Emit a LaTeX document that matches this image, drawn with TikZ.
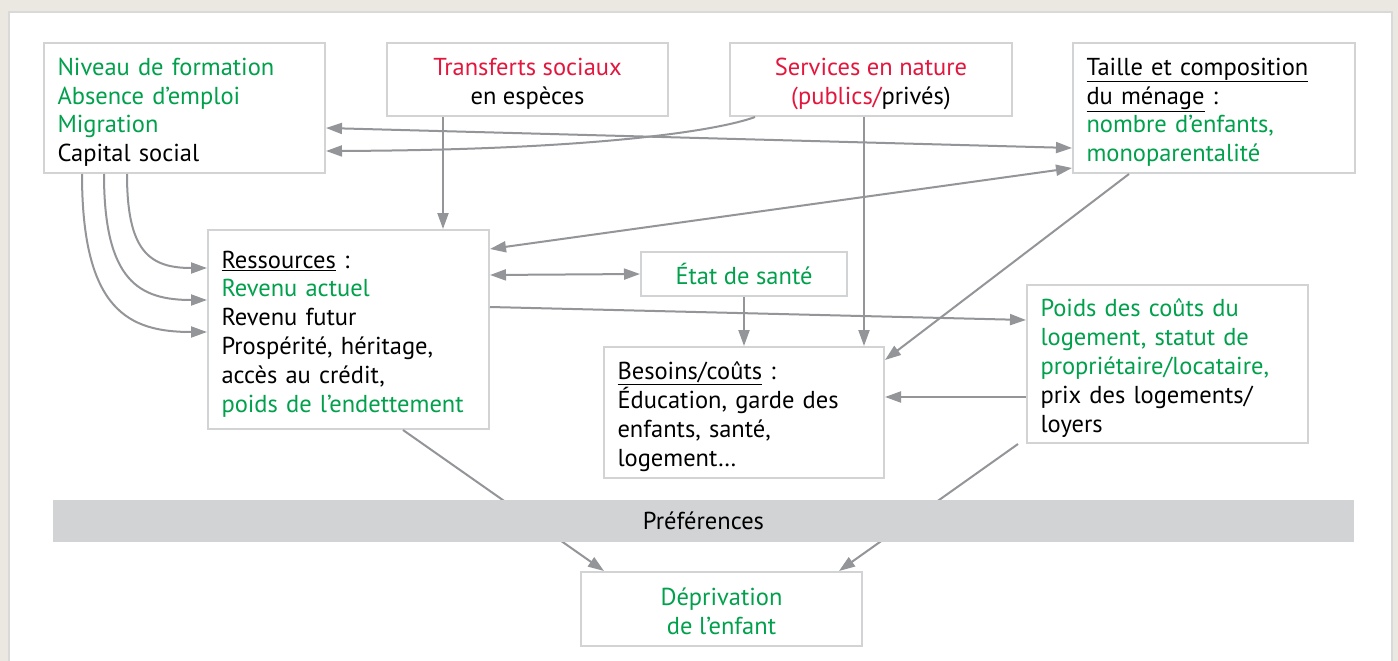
\documentclass[tikz,border=0pt]{standalone}
\usepackage{fontspec}
\setmainfont{PT Sans}
\usetikzlibrary{arrows.meta}
\definecolor{pagebg}{HTML}{EBE7E1}
\definecolor{panelline}{HTML}{D9D9D9}
\definecolor{boxline}{HTML}{D1D3D4}
\definecolor{band}{HTML}{D1D3D4}
\definecolor{arrowgray}{HTML}{939598}
\definecolor{dgreen}{HTML}{00A04C}
\definecolor{dred}{HTML}{E3173E}
\tikzset{
  box/.style={draw=boxline, line width=2pt, fill=white, rectangle,
    inner xsep=13.5pt, inner ysep=0pt, font=\fontsize{24.5}{28.8}\selectfont},
  lbox/.style={box, align=left, execute at begin node={\rule{0pt}{26pt}}},
  cbox/.style={box, align=center},
  link/.style={draw=arrowgray, line width=2pt, -{Triangle[length=16pt,width=11pt]}},
  dlink/.style={link, {Triangle[length=16pt,width=11pt]}-{Triangle[length=16pt,width=11pt]}}
}
\newcommand{\gr}[1]{\textcolor{dgreen}{#1}}
\newcommand{\rd}[1]{\textcolor{dred}{#1}}
\newcommand{\topstrut}[1]{\rule{0pt}{#1}}
\begin{document}
\begin{tikzpicture}[x=1pt, y=-1pt]
\useasboundingbox (0,0) rectangle (1398,661);
% page and panel
\fill[pagebg] (0,0) rectangle (1398,661);
\draw[panelline, line width=2pt, fill=white] (9,12) rectangle (1392,670);

% boxes
\node[lbox, minimum width=281pt, minimum height=130pt, text width=254pt] (A) at (184.5,108)
  {\gr{Niveau de formation}\\ \gr{Absence d’emploi}\\ \gr{Migration}\\ Capital social};
\node[cbox, minimum width=281pt, minimum height=73pt] (T) at (527.5,79.5)
  {\topstrut{26pt}\rd{Transferts sociaux}\\ en espèces};
\node[cbox, minimum width=282pt, minimum height=73pt] (S) at (871,79.5)
  {\topstrut{26pt}\rd{Services en nature}\\ \rd{(publics/}privés)};
\node[lbox, minimum width=282pt, minimum height=130pt, text width=255pt] (M) at (1214,108)
  {\underline{Taille et composition}\\ \underline{du ménage} :\\ \gr{nombre d’enfants,}\\ \gr{monoparentalité}};
\node[lbox, minimum width=281pt, minimum height=199pt, text width=254pt] (R) at (348.5,329.5)
  {\underline{Ressources} :\\ \gr{Revenu actuel}\\ Revenu futur\\ Prospérité, héritage,\\ accès au crédit,\\ \gr{poids de l’endettement}};
\node[cbox, minimum width=206pt, minimum height=44pt] (E) at (744,274)
  {\gr{État de santé}};
\node[lbox, minimum width=280pt, minimum height=131pt, text width=253pt] (B) at (744,412.5)
  {\underline{Besoins/coûts} :\\ Éducation, garde des\\ enfants, santé,\\ logement…};
\node[lbox, minimum width=281pt, minimum height=158pt, text width=254pt] (P) at (1167.5,364)
  {\gr{Poids des coûts du}\\ \gr{logement, statut de}\\ \gr{propriétaire/locataire,}\\ prix des logements/\\ loyers};
\node[cbox, minimum width=281pt, minimum height=74pt] (D) at (721.5,609)
  {\topstrut{22pt}\gr{Déprivation}\\ \gr{de l’enfant}};

% connectors
\draw[link] ([xshift=26pt]S.south west) .. controls (720,130) and (600,150) .. ([yshift=-43pt]A.east);
\draw[dlink] ([yshift=-20pt]A.east) -- ([yshift=-40pt]M.west);
\draw[dlink] ([yshift=80.5pt]R.east) -- ([yshift=-60pt]M.west);
\draw[link] ([xshift=-84.5pt]T.south) -- ([xshift=94.5pt]R.north);
\draw[link] ([xshift=-7pt]S.south) -- ([xshift=120pt]B.north);
\draw[dlink] ([yshift=54.5pt]R.east) -- (E.west);
\draw[link] (E.south) -- (B.north);
\draw[link] ([yshift=22.5pt]R.east) -- ([yshift=44pt]P.west);
\draw[link] ([xshift=-85pt]M.south) -- ([yshift=52.5pt]B.east);
\draw[link] ([yshift=-33pt]P.west) -- ([yshift=15.5pt]B.east);
\draw[link] ([xshift=-57.5pt]A.south) .. controls +(0,77) and +(-58,0) .. ([yshift=61.5pt]R.west);
\draw[link] ([xshift=-80.5pt]A.south) .. controls +(0,107) and +(-68,0) .. ([yshift=29.5pt]R.west);
\draw[link] ([xshift=-102.5pt]A.south) .. controls +(0,137) and +(-78,0) .. ([yshift=-2.5pt]R.west);
\draw[link] ([xshift=54.5pt]R.south) -- ([xshift=-117.5pt]D.north);
\draw[link] ([xshift=-149.5pt]P.south) -- ([xshift=117.5pt]D.north);

% preferences band over the two lower connectors
\node[fill=band, minimum width=1301pt, minimum height=42pt, inner sep=0pt,
  font=\fontsize{24.5}{28.8}\selectfont] (F) at (703.5,521) {Préférences};
\end{tikzpicture}
\end{document}
